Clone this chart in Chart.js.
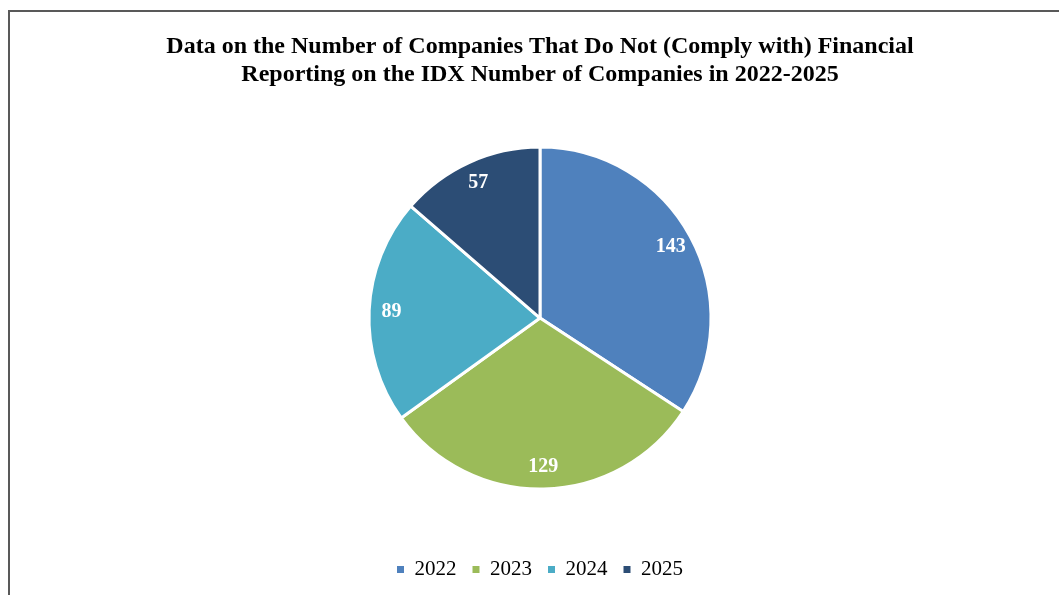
<!DOCTYPE html>
<html>
<head>
<meta charset="utf-8">
<script src="https://cdn.jsdelivr.net/npm/chart.js@4/dist/chart.umd.min.js"></script>
<style>
    html, body { margin: 0; padding: 0; background: #fff; overflow: hidden; }
    #frame {
        position: absolute; left: 8px; top: 10px;
        width: 1100px; height: 650px;
        border: 2px solid #595959;
    }
    #wrap { position: absolute; left: 0; top: 0; width: 1059px; height: 595px; }
</style>
</head>
<body>
<div id="frame"></div>
<div id="wrap"><canvas id="pieChart"></canvas></div>
<script>
const years = ['2022', '2023', '2024', '2025'];
const companies = [143, 129, 89, 57];
const sliceColors = ['#4F81BD', '#9BBB59', '#4BACC6', '#2C4D75'];
const titleLines = [
    'Data on the Number of Companies That Do Not (Comply with) Financial',
    'Reporting on the IDX Number of Companies in 2022-2025'
];

// draws the value inside each slice, like Excel's data labels
const sliceLabels = {
    id: 'sliceLabels',
    afterDatasetsDraw(chart) {
        const ctx = chart.ctx;
        const meta = chart.getDatasetMeta(0);
        ctx.save();
        ctx.font = 'bold 20px "Liberation Serif", "Times New Roman", serif';
        ctx.fillStyle = '#ffffff';
        ctx.textAlign = 'center';
        ctx.textBaseline = 'middle';
        meta.data.forEach((arc, i) => {
            const p = arc.getProps(['x', 'y', 'startAngle', 'endAngle', 'outerRadius']);
            const mid = (p.startAngle + p.endAngle) / 2;
            const r = p.outerRadius * 0.87;
            ctx.fillText(String(companies[i]), p.x + Math.cos(mid) * r, p.y + Math.sin(mid) * r);
        });
        ctx.restore();
    }
};

const ctx = document.getElementById('pieChart').getContext('2d');
new Chart(ctx, {
    type: 'pie',
    data: {
        labels: years,
        datasets: [{
            data: companies,
            backgroundColor: sliceColors,
            borderColor: '#ffffff',
            borderWidth: 3,
            radius: 171
        }]
    },
    options: {
        responsive: true,
        maintainAspectRatio: false,
        animation: false,
        layout: { padding: { top: 0, bottom: 5, left: 21, right: 0 } },
        plugins: {
            title: {
                display: true,
                text: titleLines,
                color: '#000',
                font: { family: '"Liberation Serif", "Times New Roman", serif', size: 24, weight: 'bold', lineHeight: 1.17 },
                padding: { top: 33, bottom: 4 }
            },
            legend: {
                position: 'bottom',
                labels: {
                    color: '#000',
                    font: { family: '"Liberation Serif", "Times New Roman", serif', size: 21 },
                    boxWidth: 7,
                    boxHeight: 7,
                    padding: 16,
                    generateLabels(chart) {
                        const items = Chart.overrides.pie.plugins.legend.labels.generateLabels(chart);
                        items.forEach(it => { it.lineWidth = 0; it.strokeStyle = it.fillStyle; });
                        return items;
                    }
                }
            },
            tooltip: { enabled: false }
        }
    },
    plugins: [sliceLabels]
});
</script>
</body>
</html>
